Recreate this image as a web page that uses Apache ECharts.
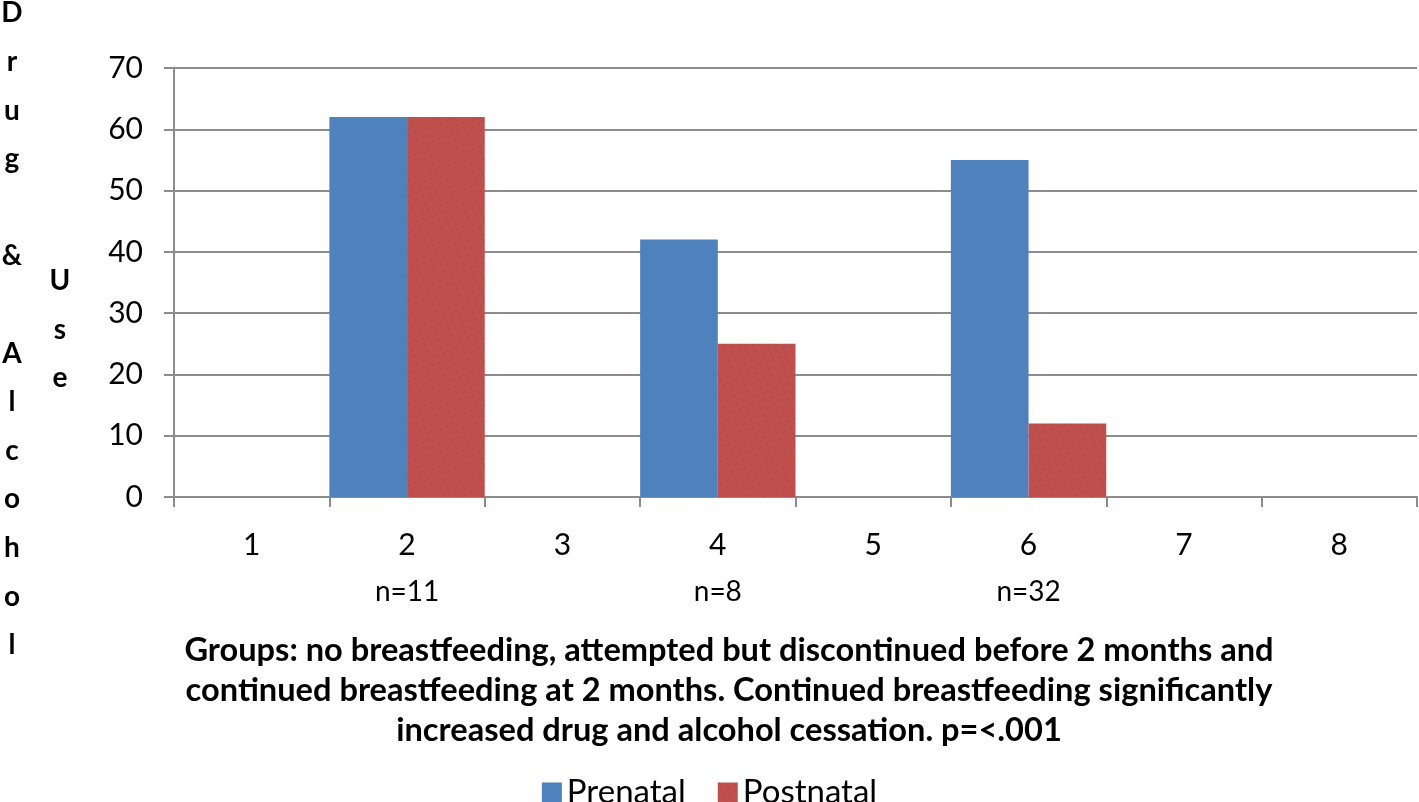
<!DOCTYPE html>
<html>
<head>
<meta charset="utf-8">
<script src="https://cdn.jsdelivr.net/npm/echarts@6/dist/echarts.min.js"></script>
<style>html,body{margin:0;padding:0;background:#fff;}#c{width:1419px;height:802px;}</style>
</head>
<body>
<div id="c"></div>
<script>
const categories = ['1','2','3','4','5','6','7','8'];
const groupLabels = ['', 'n=11', '', 'n=8', '', 'n=32', '', ''];
const prenatal = [null, 62, null, 42, null, 55, null, null];
const postnatal = [null, 62, null, 25, null, 12, null, null];
const yTicks = { min: 0, max: 70, interval: 10 };
const yTitleLeft = 'Drug & Alcohol';
const yTitleRight = 'Use';
const caption = 'Groups: no breastfeeding, attempted but discontinued before 2 months and\ncontinued breastfeeding at 2 months. Continued breastfeeding significantly\nincreased drug and alcohol cessation. p=<.001';

const FONT = 'Lato';
const chart = echarts.init(document.getElementById('c'), null, { renderer: 'canvas' });
const gray = '#8c8c8c';
chart.setOption({
  animation: false,
  textStyle: { fontFamily: FONT },
  grid: { left: 174, right: 2, top: 68, bottom: 305, containLabel: false },
  legend: {
    top: 771, left: 'center',
    itemWidth: 20, itemHeight: 20, itemGap: 32,
    icon: 'rect',
    textStyle: { fontSize: 33, color: '#000', fontFamily: FONT },
    data: ['Prenatal', 'Postnatal']
  },
  xAxis: [
    {
      type: 'category', data: categories, position: 'bottom',
      axisLine: { lineStyle: { color: gray, width: 2 } },
      axisTick: { show: true, length: 10, alignWithLabel: false, lineStyle: { color: gray, width: 2 } },
      axisLabel: { fontSize: 30, color: '#000', margin: 33 }
    },
    {
      type: 'category', data: groupLabels, position: 'bottom', offset: 48,
      axisLine: { show: false }, axisTick: { show: false },
      axisLabel: { fontSize: 28, color: '#000', margin: 33, interval: 0 }
    }
  ],
  yAxis: {
    type: 'value', min: yTicks.min, max: yTicks.max, interval: yTicks.interval,
    axisLine: { show: true, lineStyle: { color: gray, width: 2 } },
    axisTick: { show: true, length: 10, lineStyle: { color: gray, width: 2 } },
    splitLine: { lineStyle: { color: gray, width: 2 } },
    axisLabel: { fontSize: 30, color: '#000', margin: 31 }
  },
  series: [
    { name: 'Prenatal', type: 'bar', data: prenatal, barGap: '0%', barCategoryGap: '0%',
      itemStyle: { color: '#4F81BD' } },
    { name: 'Postnatal', type: 'bar', data: postnatal, barGap: '0%', barCategoryGap: '0%',
      itemStyle: { color: '#C0504D',
        decal: { symbol: 'rect', symbolSize: 0.5, color: 'rgba(40,50,40,0.45)',
                 dashArrayX: [2, 5], dashArrayY: [2, 5], rotation: -0.35 } } }
  ],
  graphic: [
    { type: 'text', x: 12, y: -11, style: {
      text: yTitleLeft.split('').map(c => c === ' ' ? '' : c).join('\n'),
      font: 'bold 28px ' + FONT, fill: '#000', lineHeight: 48.6, align: 'center', verticalAlign: 'top' } },
    { type: 'text', x: 60, y: 257, style: {
      text: yTitleRight.split('').join('\n'),
      font: 'bold 28px ' + FONT, fill: '#000', lineHeight: 48.5, align: 'center', verticalAlign: 'top' } },
    { type: 'text', x: 729, y: 630, style: {
      text: caption, font: 'bold 32.6px ' + FONT, fill: '#000', lineHeight: 40, align: 'center', verticalAlign: 'top' } }
  ]
});
</script>
</body>
</html>
